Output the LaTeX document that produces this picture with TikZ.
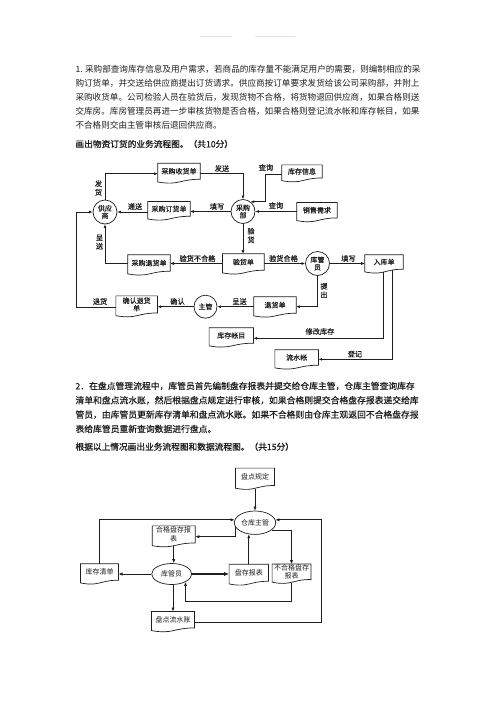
\documentclass[tikz,border=0pt]{standalone}
\usepackage{fontspec}
\setmainfont{Noto Sans CJK SC}
\newfontfamily\semib[FakeBold=0.4]{Noto Sans CJK SC}
\newfontfamily\headf[FakeBold=0.9]{Noto Sans CJK SC}
\usetikzlibrary{arrows.meta,calc,shapes.geometric}
\XeTeXlinebreaklocale "zh"
\XeTeXlinebreakskip=0pt plus 1pt minus 0.3pt
\definecolor{ink}{HTML}{1E1E1E}
\tikzset{
  ln/.style={line width=0.7pt, draw=ink},
  arr/.style={ln, -{Latex[length=3.6pt,width=3pt]}},
  arrb/.style={ln, -{Latex[length=4pt,width=3.2pt]}},
  arrthick/.style={line width=1.3pt, draw=ink, -{Latex[length=5pt,width=4.2pt]}},
  doc/.style={inner sep=0pt, font=\semib\fontsize{7}{7.5}\selectfont, align=center, text=ink},
  docb/.style={inner sep=0pt, font=\fontsize{7}{8.5}\selectfont, align=center, text=ink},
  proc/.style={circle, draw=ink, line width=0.7pt, inner sep=0pt, minimum size=24pt,
    font=\semib\fontsize{7}{7.5}\selectfont, align=center, text=ink},
  elps/.style={ellipse, draw=ink, line width=0.7pt, inner sep=0pt,
    font=\fontsize{7}{8}\selectfont, text=ink},
  lab/.style={inner sep=0pt, font=\semib\fontsize{7.2}{8.6}\selectfont, align=center, text=ink},
  para/.style={anchor=west, inner sep=0pt, text=ink},
}
\newcommand\docu[1]{%
  \draw[ln] ($(#1.south west)+(0,2.7)$) -- (#1.north west) -- (#1.north east)
    -- (#1.south east) .. controls (#1.south) and ($(#1.south)+(0,6.5)$)
    .. ($(#1.south west)+(0,2.7)$) -- cycle;}
\begin{document}
\begin{tikzpicture}[x=1pt,y=-1pt]
\fill[white] (0,0) rectangle (496,702);
\useasboundingbox (0,0) rectangle (496,702);

% faint page header
\draw[gray!22, line width=0.8pt] (200,36.7) -- (231.7,36.7);
\draw[gray!22, line width=0.8pt] (255,36.7) -- (295,36.7);

% ---------- paragraph 1 ----------
\begin{scope}[every node/.style={para, font=\fontsize{8.6}{10}\selectfont}]
\node (p1a) at (75.3,69.3)  {\makebox[345pt][s]{1. 采购部查询库存信息及用户需求，若商品的库存量不能满足用户的需要，则编制相应的采}};
\node (p1b) at (75.3,83.2)  {\makebox[345pt][s]{购订货单，并交送给供应商提出订货请求。供应商按订单要求发货给该公司采购部，并附上}};
\node (p1c) at (75.3,97.1)  {\makebox[345pt][s]{采购收货单。公司检验人员在验货后，发现货物不合格，将货物退回供应商，如果合格则送}};
\node (p1d) at (75.3,111.0) {\makebox[345pt][s]{交库房。库房管理员再进一步审核货物是否合格，如果合格则登记流水帐和库存帐目，如果}};
\node (p1e) at (75.3,124.9) {不合格则交由主管审核后退回供应商。};
\end{scope}
\node[para, font=\headf\fontsize{8.7}{10}\selectfont] (h1) at (75.3,144) {画出物资订货的业务流程图。（共10分）};

% ---------- diagram 1 ----------
\node[proc] (gys) at (105,212) {供应\\商};
\node[proc] (cgb) at (243,211.5) {采购\\部};
\node[proc] (kgy) at (317.5,263.5) {库管\\员};
\node[proc, minimum size=23pt] (zg) at (205.5,306.7) {主管};

\node[doc, minimum width=42pt, minimum height=15.7pt] (sh) at (179,171.2) {采购收货单}; \docu{sh}
\node[doc, minimum width=42pt, minimum height=14.3pt] (dh) at (169,208.9) {采购订货单}; \docu{dh}
\node[doc, minimum width=40pt, minimum height=12.7pt] (kc) at (302,171.4) {库存信息}; \docu{kc}
\node[doc, minimum width=40pt, minimum height=15pt] (xs) at (317,210.2) {销售需求}; \docu{xs}
\node[doc, minimum width=42pt, minimum height=16pt] (th) at (149,263) {采购退货单}; \docu{th}
\node[doc, minimum width=41.3pt, minimum height=16pt] (yh) at (243.4,262) {验货单}; \docu{yh}
\node[doc, minimum width=38pt, minimum height=14pt] (rk) at (384,262) {入库单}; \docu{rk}
\node[doc, minimum width=41.3pt, minimum height=16.7pt] (qr) at (136.7,304.4) {确认退货\\单}; \docu{qr}
\node[doc, minimum width=42pt, minimum height=16pt] (thd) at (275,305) {退货单}; \docu{thd}
\node[doc, minimum width=44pt, minimum height=15pt] (zm) at (231.3,335.5) {库存帐目}; \docu{zm}
\node[doc, minimum width=43.3pt, minimum height=15pt] (ls) at (296.7,357.5) {流水帐}; \docu{ls}

\draw[arr] (gys.north) |- ([yshift=-2.5pt]sh.west);
\node[lab] (l1) at (98.5,188) {发\\货};
\draw[arr] ([yshift=-2.5pt]sh.east) -| (cgb.north);
\node[lab] (l2) at (222,168.5) {发送};
\draw[arr] (cgb.west) -- (cgb.west -| dh.east);
\node[lab] (l3) at (217,206.5) {填写};
\draw[arr] (gys.east -| dh.west) -- (gys.east);
\node[lab] (l4) at (135,206.5) {递送};
\draw[arr] ([yshift=-2.5pt]kc.west) -- ++(-16,0) |- (cgb.52);
\node[lab] (l5) at (266,167.5) {查询};
\draw[arr] (cgb.east -| xs.west) -- (cgb.east);
\node[lab] (l6) at (276,205.5) {查询};
\draw[arr] (cgb.south) -- (cgb.south |- yh.north);
\node[lab] (l7) at (251,235.5) {验\\货};
\draw[arr] (kgy.west -| yh.west) -- (kgy.west -| th.east);
\node[lab] (l8) at (197.5,258.5) {验货不合格};
\draw[arr] (kgy.west -| th.west) -| (gys.south);
\node[lab] (l9) at (99.5,242) {呈\\送};
\draw[arr] ([yshift=-2.5pt]qr.west) -- ++(-40,0) |- (gys.west);
\node[lab] (l10) at (100,301.5) {退货};
\draw[arr] (zg.west) -- (zg.west -| qr.east);
\node[lab] (l11) at (177.5,301.5) {确认};
\draw[arr] (zg.east -| thd.west) -- (zg.east);
\node[lab] (l12) at (239.5,301.5) {呈送};
\draw[arr] (kgy.south) |- (zg.east -| thd.east);
\node[lab] (l13) at (324,290.5) {提\\出};
\draw[arr] (kgy.west -| yh.east) -- (kgy.west);
\node[lab] (l14) at (283.5,258.5) {验货合格};
\draw[arr] (kgy.east) -- (kgy.east -| rk.west);
\node[lab] (l15) at (348.5,258.5) {填写};
\draw[arr] ([xshift=-0.7pt,yshift=-2.5pt]rk.south) |- ([yshift=-2.8pt]zm.east);
\node[lab] (l16) at (320,331.5) {修改库存};
\draw[arr] ([xshift=8.3pt,yshift=-0.8pt]rk.south) |- ([yshift=-1.8pt]ls.east);
\node[lab] (l17) at (355,354) {登记};

% ---------- paragraph 2 ----------
\begin{scope}[every node/.style={para, font=\semib\fontsize{8.8}{10}\selectfont}]
\node (p2a) at (75.3,386)   {\makebox[339.5pt][s]{2．在盘点管理流程中，库管员首先编制盘存报表并提交给仓库主管，仓库主管查询库存}};
\node (p2b) at (75.3,400.3) {\makebox[339.5pt][s]{清单和盘点流水账，然后根据盘点规定进行审核，如果合格则提交合格盘存报表递交给库}};
\node (p2c) at (75.3,414.6) {\makebox[339.5pt][s]{管员，由库管员更新库存清单和盘点流水账。如果不合格则由仓库主观返回不合格盘存报}};
\node (p2d) at (75.3,428.9) {表给库管员重新查询数据进行盘点。};
\end{scope}
\node[para, font=\headf\fontsize{8.7}{10}\selectfont] (h2) at (75.3,446.7) {根据以上情况画出业务流程图和数据流程图。（共15分）};

% ---------- diagram 2 ----------
\node[elps, minimum width=41.4pt, minimum height=23.4pt] (ckzg) at (255,522.7) {仓库主管};
\node[elps, minimum width=40pt, minimum height=21pt] (kgy2) at (171.7,574) {库管员};

\node[docb, minimum width=38.6pt, minimum height=17pt] (pdgd) at (255,476.8) {盘点规定}; \docu{pdgd}
\node[docb, minimum width=42.7pt, minimum height=16.7pt] (hg) at (173.7,534.4) {合格盘存报\\表}; \docu{hg}
\node[docb, minimum width=37.6pt, minimum height=16pt] (kcqd) at (99.5,572) {库存清单}; \docu{kcqd}
\node[docb, minimum width=39pt, minimum height=16.7pt] (pcbb) at (248.8,572.7) {盘存报表}; \docu{pcbb}
\node[docb, minimum width=38.4pt, minimum height=15pt] (bhg) at (291.5,571.8) {不合格盘存\\报表}; \docu{bhg}
\node[docb, minimum width=42.6pt, minimum height=16pt] (lsz) at (173,619.7) {盘点流水账}; \docu{lsz}

\coordinate (c2) at (0,601.7);
\coordinate (c3) at (321,0);

\draw[arrb] ([yshift=-3.5pt]pdgd.south) -- (ckzg.north);
\draw[arrb] (ckzg.192) |- ([yshift=-2.3pt]hg.east);
\draw[arrb] (kcqd.north) |- (ckzg.172);
\draw[arrb] ([yshift=-3pt]hg.south) -- (hg.south |- kgy2.north);
\draw[arrb] (kgy2.west) -- (kgy2.west -| kcqd.east);
\draw[arrthick] (kgy2.east) -- (kgy2.east -| pcbb.west);
\draw[arrb] (pcbb.north) -- (pcbb.north |- ckzg.242);
\draw[arrb] (ckzg.336) -| (bhg.north);
\draw[arrb] ([yshift=-3pt]bhg.south) |- (kgy2.330 |- c2) -- (kgy2.330);
\draw[arrb] (lsz.north |- kgy2.south) -- (lsz.north);
\draw[arrb] ([yshift=-2.6pt]lsz.east) -| (c3 |- ckzg.8) -- (ckzg.8);
\end{tikzpicture}
\end{document}
